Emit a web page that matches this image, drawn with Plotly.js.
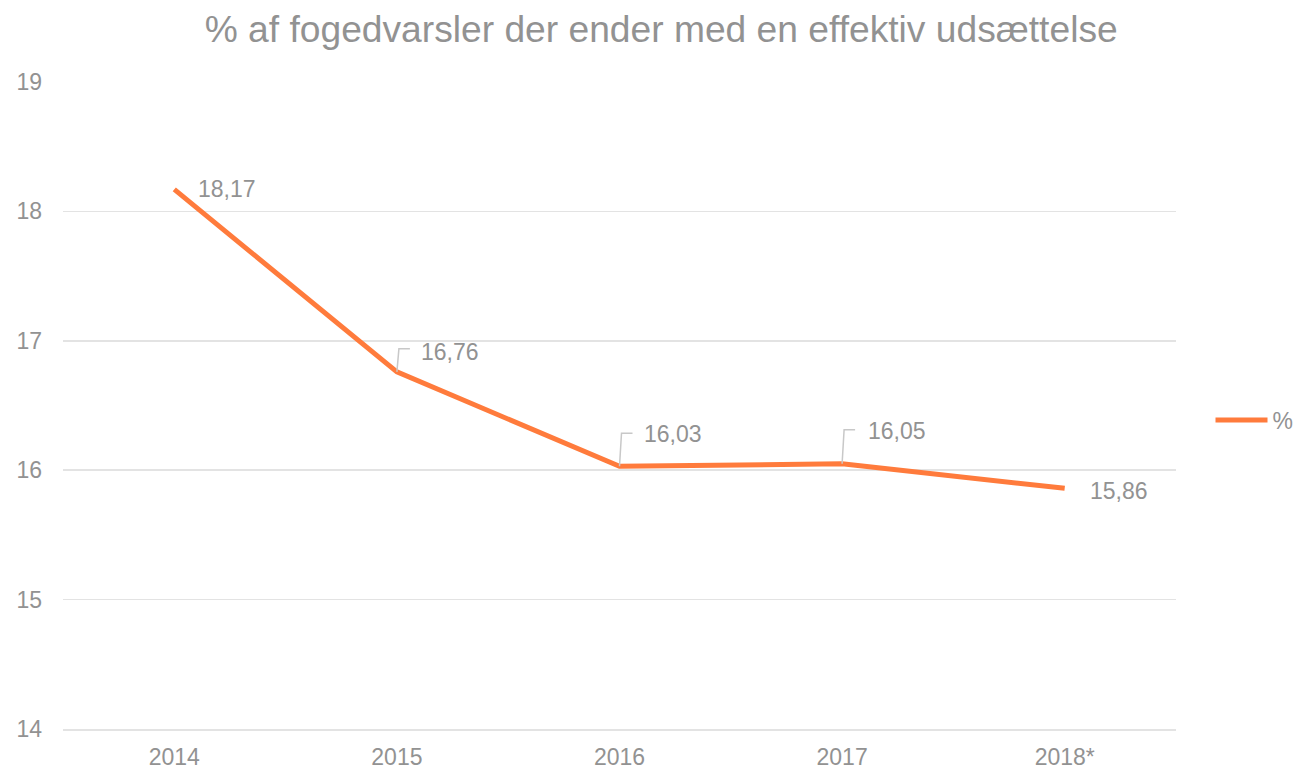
<!DOCTYPE html>
<html><head><meta charset="utf-8">
<script src="https://cdn.plot.ly/plotly-3.0.1.min.js"></script>
<style>html,body{margin:0;padding:0;background:#fff}#chart{width:1299px;height:770px}</style>
</head><body><div id="chart"></div>
<script>
const years = ["2014", "2015", "2016", "2017", "2018*"];
const values = [18.17, 16.76, 16.03, 16.05, 15.86];
const labels = ["18,17", "16,76", "16,03", "16,05", "15,86"];
const seriesName = "%";
const yTicks = [14, 15, 16, 17, 18, 19];

// label placement (pixels): [xshift, yshift, leaderHeight or 0]
const labelPlacement = [[22, 0, 0], [22, 20, 23], [22, 32, 33], [24, 33, 34], [23, -3, 0]];

const gray = "#929292";
const orange = "#FF7B3C";
const font = "Liberation Sans, Arial, sans-serif";

const annotations = [];
const shapes = [];
years.forEach((y, i) => {
  const [xs, ys, lh] = labelPlacement[i];
  annotations.push({x: i, y: values[i], xref: 'x', yref: 'y', text: labels[i], showarrow: false,
    xanchor: 'left', yanchor: 'middle', xshift: xs, yshift: ys, font: {size: 23, color: gray, family: font}});
  if (lh > 0) {
    shapes.push({type: 'path', xref: 'x', yref: 'y', xsizemode: 'pixel', ysizemode: 'pixel',
      xanchor: i, yanchor: values[i], path: `M0,0 L2,${lh} L13,${lh}`,
      line: {color: '#c8c8c8', width: 1.5}});
  }
});

const trace = {x: years, y: values, type: 'scatter', mode: 'lines', name: seriesName,
  line: {color: orange, width: 5}, hoverinfo: 'skip'};

const layout = {
  width: 1299, height: 770,
  margin: {l: 63, r: 123, t: 82, b: 41, autoexpand: false},
  paper_bgcolor: '#fff', plot_bgcolor: '#fff',
  font: {family: font, color: gray, size: 24},
  title: {text: "% af fogedvarsler der ender med en effektiv udsættelse", x: 0.509, xanchor: 'center', xref: 'container',
    y: 0.962, yanchor: 'middle', font: {size: 37.2, color: gray, family: font}},
  xaxis: {type: 'category', range: [-0.5, 4.5], showgrid: false, zeroline: false,
    showline: true, linecolor: '#e3e3e3', linewidth: 1.5,
    ticks: '', tickfont: {size: 23, color: gray}, ticklabelstandoff: 7, fixedrange: true},
  yaxis: {range: [14, 19], tickvals: yTicks, ticktext: yTicks.map(String), showgrid: true, gridcolor: '#e3e3e3', gridwidth: 1.5,
    zeroline: false, showline: false, ticks: '', tickfont: {size: 23, color: gray}, ticklabelstandoff: 20},
  showlegend: true,
  legend: {x: 1.031, xref: 'paper', y: 0.4776, yanchor: 'middle', xanchor: 'left', font: {size: 23, color: gray},
    itemwidth: 52, bgcolor: 'rgba(0,0,0,0)'},
  annotations: annotations,
  shapes: shapes
};
Plotly.newPlot('chart', [trace], layout, {staticPlot: true});
</script></body></html>
